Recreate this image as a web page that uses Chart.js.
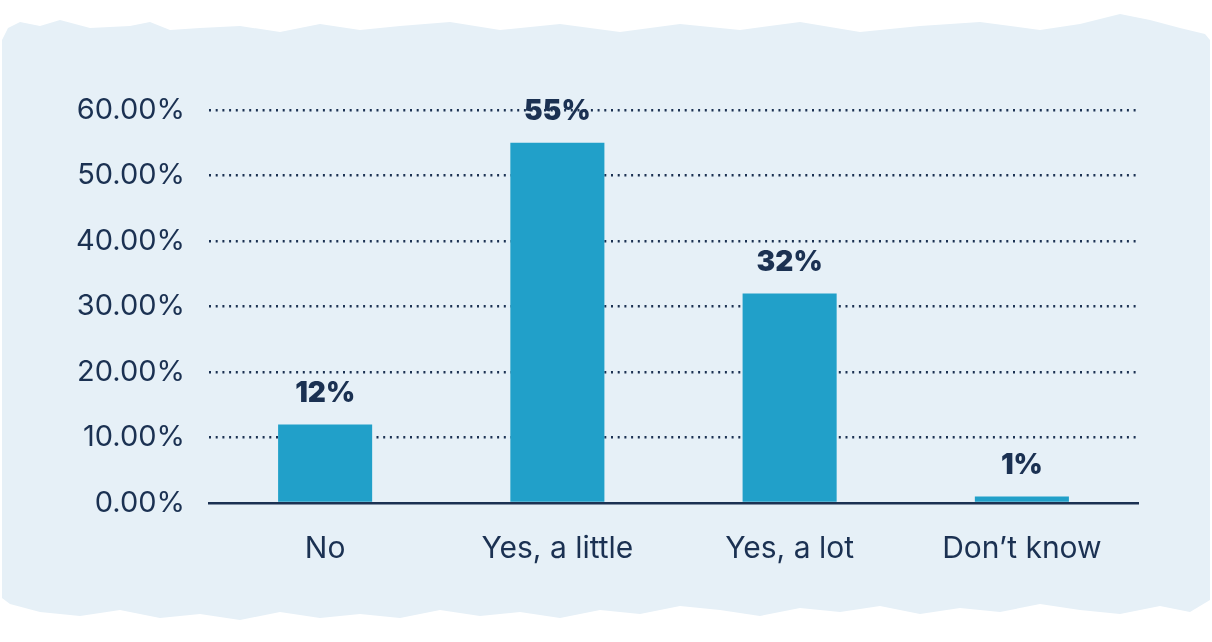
<!DOCTYPE html>
<html>
<head>
<meta charset="utf-8">
<script src="https://cdn.jsdelivr.net/npm/chart.js@4.4.1/dist/chart.umd.min.js"></script>
<style>
  html, body { margin: 0; padding: 0; background: #ffffff; }
  #panel {
    position: absolute; left: 0; top: 0;
    width: 1212px; height: 642px;
    background: #e6f0f7;
  }
  #wrap { position: absolute; left: 0; top: 0; width: 1212px; height: 642px; }
</style>
</head>
<body>
<div id="panel"></div>
<div id="wrap"><canvas id="survey-chart"></canvas></div>
<script>
const categories = ['No', 'Yes, a little', 'Yes, a lot', 'Don\u2019t know'];
const shares = [12, 55, 32, 1];
const yTicks = [0, 10, 20, 30, 40, 50, 60];

const navy = '#1b3152';
const barBlue = '#21a0c9';

// Rough torn-paper outline for the panel (x, y pairs along top and bottom edges)
const topEdge = [[2,40],[8,28],[20,22],[40,26],[60,20],[90,28],[130,26],[150,22],[170,30],[200,28],[240,26],[280,32],[320,24],
  [360,30],[400,26],[450,22],[500,30],[560,24],[620,32],[680,24],[740,30],[800,22],[860,32],[920,26],[980,22],[1040,30],
  [1080,24],[1120,14],[1150,20],[1180,28],[1205,34],[1210,40]];
const bottomEdge = [[1210,600],[1190,612],[1160,606],[1120,614],[1080,610],[1040,604],[1000,612],[960,608],[920,614],
  [880,606],[840,612],[800,608],[760,616],[720,610],[680,606],[640,614],[600,610],[560,618],[520,612],[480,616],
  [440,610],[400,618],[360,614],[320,618],[280,612],[240,620],[200,614],[160,618],[120,610],[80,616],[40,612],[10,604],[2,598]];
document.getElementById('panel').style.clipPath =
  'polygon(' + topEdge.concat(bottomEdge).map(p => p[0] + 'px ' + p[1] + 'px').join(', ') + ')';

// Bold percentage labels above each bar
const valueLabels = {
  id: 'valueLabels',
  afterDatasetsDraw(chart) {
    const ctx = chart.ctx;
    const meta = chart.getDatasetMeta(0);
    ctx.save();
    ctx.fillStyle = navy;
    ctx.font = '900 28px Inter';
    ctx.textAlign = 'center';
    ctx.textBaseline = 'bottom';
    meta.data.forEach((bar, i) => {
      ctx.fillText(shares[i] + '%', bar.x, bar.y - 17);
    });
    ctx.restore();
  }
};

new Chart(document.getElementById('survey-chart'), {
  type: 'bar',
  data: {
    labels: categories,
    datasets: [{
      data: shares,
      backgroundColor: barBlue,
      borderWidth: 0,
      barPercentage: 0.81,
      categoryPercentage: 0.5
    }]
  },
  options: {
    responsive: true,
    maintainAspectRatio: false,
    animation: false,
    layout: { padding: { top: 110, right: 74, bottom: 55, left: 0 } },
    plugins: {
      legend: { display: false },
      tooltip: { enabled: false }
    },
    scales: {
      x: {
        border: { display: true, color: navy, width: 2.5 },
        grid: { display: false },
        ticks: {
          color: navy,
          font: { family: 'Inter', size: 30 },
          padding: 20
        }
      },
      y: {
        min: 0,
        max: 60,
        afterFit: (scale) => { scale.width = 209; },
        afterBuildTicks: (scale) => { scale.ticks = yTicks.map(v => ({ value: v })); },
        border: { display: false, dash: [2, 4.7] },
        grid: {
          color: (c) => c.tick && c.tick.value === 0 ? 'rgba(0,0,0,0)' : navy,
          lineWidth: 2.4,
          drawTicks: false
        },
        ticks: {
          color: navy,
          font: { family: 'Inter', size: 29 },
          padding: 24,
          callback: (v) => v.toFixed(2) + '%'
        }
      }
    }
  },
  plugins: [valueLabels]
});
</script>
</body>
</html>
